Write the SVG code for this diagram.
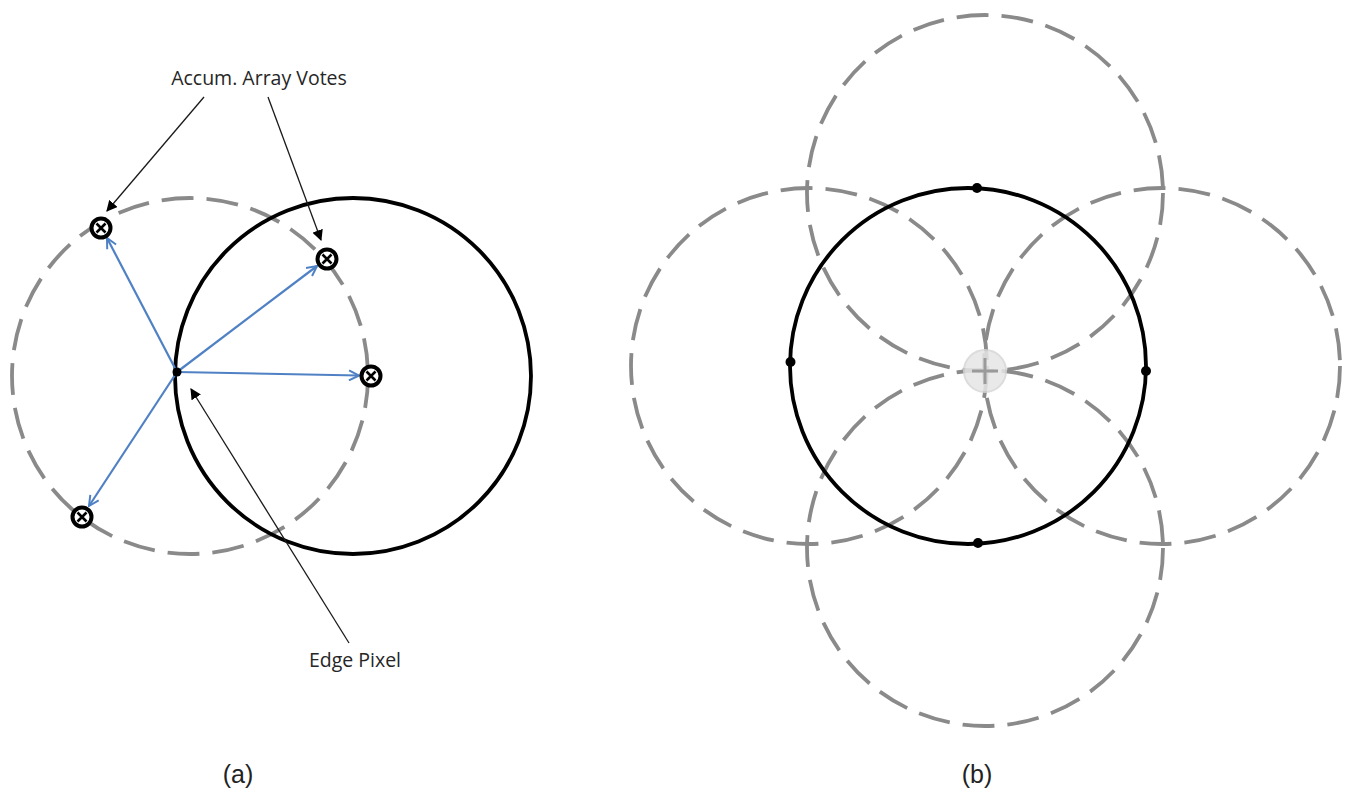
<svg xmlns="http://www.w3.org/2000/svg" width="1351" height="794" viewBox="0 0 1351 794">
<style>
.solid{fill:none;stroke:#000;stroke-width:3.8}
.dash{fill:none;stroke:#8a8a8a;stroke-width:3.8;stroke-dasharray:32 13}
.blue{fill:none;stroke:#4f81c4;stroke-width:2.2;marker-end:url(#bhead)}
.ann{fill:none;stroke:#1a1a1a;stroke-width:1.3;marker-end:url(#khead)}
.lbl{font-family:"Open Sans","Liberation Sans",sans-serif;font-size:19.5px;fill:#262626}
.cap{font-family:"Liberation Sans",Arial,sans-serif;font-size:25px;fill:#222}
</style>
<defs>
<marker id="bhead" viewBox="0 0 12 12" refX="11" refY="6" markerWidth="12" markerHeight="12" markerUnits="userSpaceOnUse" orient="auto">
<path d="M1,1 L11,6 L1,11" fill="none" stroke="#4f81c4" stroke-width="2"/>
</marker>
<marker id="khead" viewBox="0 0 10 10" refX="9" refY="5" markerWidth="11" markerHeight="11" markerUnits="userSpaceOnUse" orient="auto">
<path d="M0,0 L10,5 L0,10 Z" fill="#000"/>
</marker>
<g id="votemark">
<circle cx="0" cy="0" r="9.5" fill="#fff" stroke="#000" stroke-width="4"/>
<path d="M-4.5,-4.5 L4.5,4.5 M4.5,-4.5 L-4.5,4.5" stroke="#000" stroke-width="2.6"/>
</g>
</defs>

<g id="panel-a">
<circle id="a-dashed" class="dash" cx="190" cy="376" r="178"/>
<circle id="a-circle" class="solid" cx="353" cy="376" r="178"/>
<g id="a-vectors">
<line class="blue" x1="177" y1="372" x2="107" y2="238"/>
<line class="blue" x1="177" y1="372" x2="317" y2="266"/>
<line class="blue" x1="177" y1="372" x2="359" y2="375.5"/>
<line class="blue" x1="177" y1="372" x2="89" y2="506"/>
</g>
<circle id="edge-pixel" cx="177" cy="372" r="4.5" fill="#000"/>
<g id="votes">
<use href="#votemark" x="101" y="228"/>
<use href="#votemark" x="327" y="259"/>
<use href="#votemark" x="371" y="376"/>
<use href="#votemark" x="82" y="517"/>
</g>
<g id="connectors">
<line class="ann" x1="204" y1="97" x2="107" y2="211"/>
<line class="ann" x1="268" y1="97" x2="321" y2="240"/>
<line class="ann" x1="349" y1="643" x2="191" y2="389"/>
</g>
<text id="lbl-votes" class="lbl" x="259" y="85" text-anchor="middle">Accum. Array Votes</text>
<text id="lbl-edge" class="lbl" x="355" y="667" text-anchor="middle">Edge Pixel</text>
<text id="cap-a" class="cap" x="238" y="783" text-anchor="middle">(a)</text>
</g>

<g id="panel-b">
<circle class="dash" cx="985" cy="193" r="178"/>
<circle class="dash" cx="809" cy="366" r="178"/>
<circle class="dash" cx="1162" cy="366" r="178"/>
<circle class="dash" cx="985" cy="548" r="178"/>
<circle id="b-circle" class="solid" cx="968" cy="366" r="178"/>
<g id="b-points" fill="#000">
<circle cx="977" cy="188" r="5"/>
<circle cx="978" cy="543" r="5"/>
<circle cx="790.5" cy="362" r="5"/>
<circle cx="1146" cy="371" r="5"/>
</g>
<g id="b-center">
<circle cx="985" cy="371" r="21" fill="#e6e6e6" stroke="#d6d6d6" stroke-width="2" opacity="0.85"/>
<path d="M985,358 V384 M972,371 H998" stroke="#9a9a9a" stroke-width="3"/>
</g>
<text id="cap-b" class="cap" x="977" y="783" text-anchor="middle">(b)</text>
</g>
</svg>
